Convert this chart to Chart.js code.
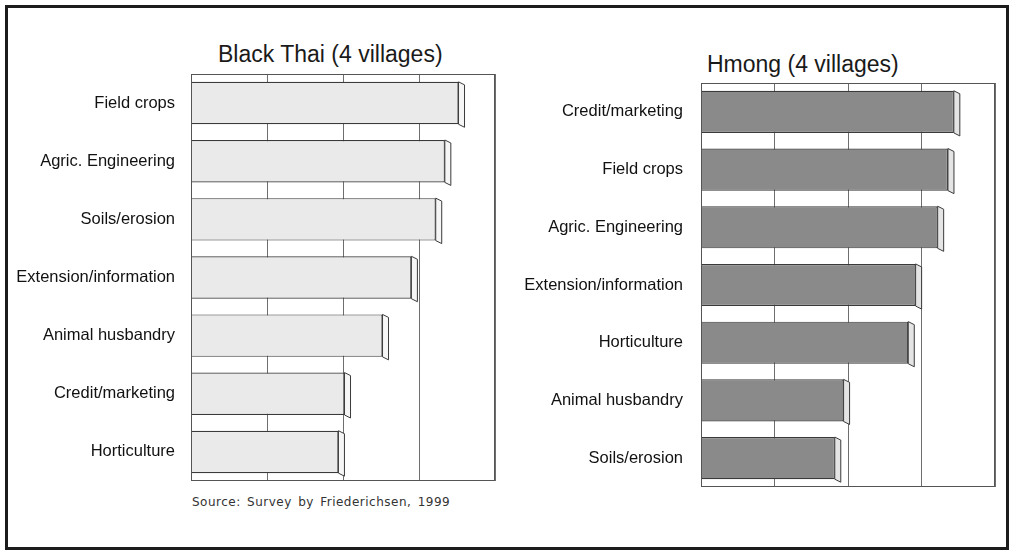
<!DOCTYPE html>
<html>
<head>
<meta charset="utf-8">
<script src="https://cdn.jsdelivr.net/npm/chart.js@4/dist/chart.umd.min.js"></script>
<style>
  body { margin: 0; background: #fff; width: 1014px; height: 553px; overflow: hidden; }
  #frame { position: absolute; left: 5px; top: 5px; width: 998px; height: 539px; border: 3px solid #1c1c1c; }
  .box { position: absolute; }
  .title { position: absolute; font-family: "Liberation Sans", Arial, sans-serif; font-size: 23px; color: #1a1a1a; white-space: nowrap; }
  #source { position: absolute; left: 192px; top: 495px; font-family: "DejaVu Sans", sans-serif; font-size: 12px; color: #333; letter-spacing: 0.5px; word-spacing: 2px; }
</style>
</head>
<body>
<div id="frame"></div>
<div class="title" style="left:218px; top:41px;">Black Thai (4 villages)</div>
<div class="title" style="left:707px; top:51px;">Hmong (4 villages)</div>
<div class="box" style="left:10px; top:74px; width:490px; height:407px;"><canvas id="thai"></canvas></div>
<div class="box" style="left:517px; top:83px; width:483px; height:404px;"><canvas id="hmong"></canvas></div>
<div id="source">Source: Survey by Friederichsen, 1999</div>

<script>
// values, in % of the axis length (no tick labels shown)
const thaiCategories = ['Field crops', 'Agric. Engineering', 'Soils/erosion', 'Extension/information',
                        'Animal husbandry', 'Credit/marketing', 'Horticulture'];
const thaiValues = [88, 83.5, 80.5, 72.5, 63, 50.5, 48.5];

const hmongCategories = ['Credit/marketing', 'Field crops', 'Agric. Engineering', 'Extension/information',
                         'Horticulture', 'Animal husbandry', 'Soils/erosion'];
const hmongValues = [86, 84, 80.5, 73, 70.5, 48.5, 45.5];

const axisMax = 100;
const gridStep = 25;

// box around the plot + little 3d end face on each bar
const boxPlugin = {
    id: 'box3d',
    afterDatasetsDraw(chart, args, opts) {
        const c = chart.ctx;
        const a = chart.chartArea;
        c.save();
        c.strokeStyle = '#555';
        c.lineWidth = 1;
        c.strokeRect(a.left + 0.5, a.top + 0.5, a.width - 1, a.height - 1);
        chart.getDatasetMeta(0).data.forEach(bar => {
            const top = bar.y - bar.height / 2;
            const bot = bar.y + bar.height / 2;
            c.beginPath();
            c.moveTo(bar.x, top);
            c.lineTo(bar.x + 6, top + 3);
            c.lineTo(bar.x + 6, bot + 3);
            c.lineTo(bar.x, bot);
            c.closePath();
            c.fillStyle = opts.side;
            c.fill();
            c.strokeStyle = '#3a3a3a';
            c.stroke();
        });
        c.restore();
    }
};

function makeChart(id, labels, values, fill, side, axisWidth, pad) {
    return new Chart(document.getElementById(id), {
        type: 'bar',
        data: {
            labels: labels,
            datasets: [{
                data: values,
                backgroundColor: fill,
                borderColor: '#3a3a3a',
                borderWidth: 1.2,
                barPercentage: 0.73,
                categoryPercentage: 1
            }]
        },
        options: {
            indexAxis: 'y',
            responsive: true,
            maintainAspectRatio: false,
            animation: false,
            layout: { padding: { top: 0, right: 5, bottom: 0, left: 0 } },
            plugins: {
                legend: { display: false },
                tooltip: { enabled: false },
                box3d: { side: side }
            },
            scales: {
                x: {
                    min: 0,
                    max: axisMax,
                    ticks: { display: false, stepSize: gridStep },
                    grid: { color: '#6e6e6e', lineWidth: 1, drawTicks: false },
                    border: { display: false }
                },
                y: {
                    ticks: {
                        color: '#111',
                        padding: pad,
                        font: { family: 'Liberation Sans, Arial, sans-serif', size: 16.5 }
                    },
                    grid: { display: false, drawTicks: false },
                    border: { display: false },
                    afterFit(scale) {
                        scale.width = axisWidth;
                        scale.paddingTop = 0;
                        scale.paddingBottom = 0;
                    }
                }
            }
        },
        plugins: [boxPlugin]
    });
}

makeChart('thai', thaiCategories, thaiValues, '#eaeaea', '#f6f6f6', 181, 16);
makeChart('hmong', hmongCategories, hmongValues, '#8a8a8a', '#e4e4e4', 184, 18);
</script>
</body>
</html>
